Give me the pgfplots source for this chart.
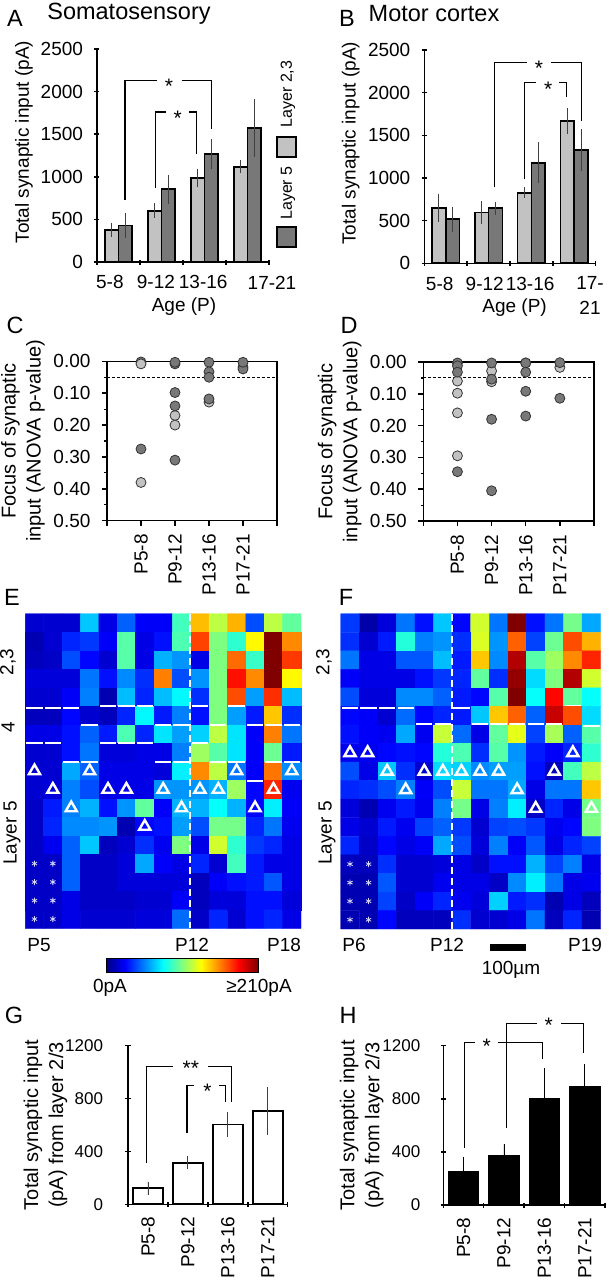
\documentclass[border=0pt]{standalone}
\usepackage{pgfplots}
\usepackage{fontspec}
\setmainfont{Liberation Sans}
\pgfplotsset{compat=1.18}
\newcommand\lab{\fontsize{19}{25}\selectfont}
\newcommand\labb{\fontsize{20}{25}\selectfont}
\newcommand\tickf{\fontsize{17}{20}\selectfont}
\newcommand\letr{\fontsize{23.5}{25}\selectfont}
\definecolor{lay23}{gray}{0.76}
\definecolor{lay5}{gray}{0.47}
\pgfplotsset{
  common/.style={
    scale only axis, clip=false,
    tick label style={font=\lab},
    label style={font=\lab},
    /pgf/number format/assume math mode=true,
    /pgf/number format/set thousands separator={},
    tick align=outside, major tick length=5pt,
    tick style={black,line width=1.5pt},
    yticklabel shift=8pt,
  },
  barax/.style={
    common,
    axis x line=bottom, axis y line=left,
    axis line style={-,black,line width=1.5pt},
    xmin=0, xmax=4, ymin=0,
    xtick={0,1,2,3,4}, xticklabels={},
    extra x tick style={major tick length=0pt},
    every axis plot post/.append style={line width=1.7pt},
  },
  bars/.style={
    ybar, bar shift=0pt, draw=black, forget plot,
    error bars/y dir=both, error bars/y explicit, error bars/error mark=none,
    error bars/error bar style={black!75,line width=0.8pt},
  },
  dotax/.style={
    common,
    xmin=0, xmax=5, ymin=0, ymax=0.5, y dir=reverse,
    axis line style={black,line width=1.5pt},
    xtick={0,1,2,3,4,5}, xticklabels={{},P5-8,P9-12,P13-16,P17-21,{}},
    xticklabel style={rotate=90,anchor=east},
    xticklabel shift=5pt,
    xtick pos=bottom, ytick pos=left,
    ytick={0,0.1,0.2,0.3,0.4,0.5},
    yticklabel style={/pgf/number format/fixed,/pgf/number format/fixed zerofill,/pgf/number format/precision=2},
    minor ytick={0.05,0.15,0.25,0.35,0.45},
    minor tick length=2.5pt, minor tick style={black,line width=1.2pt},
    every axis y label/.style={at={(axis description cs:-0.5,0.5)},rotate=90,anchor=center,align=center,font=\labb},
  },
  dots/.style={only marks, mark=*, mark size=5pt, mark options={draw=black!80,line width=0.8pt,fill=#1}},
  heat/.style={
    scale only axis, hide axis, enlargelimits=false, clip=false,
    y dir=reverse, ymin=-0.5, ymax=16.5, xmin=-0.5,
    colormap/jet, point meta min=0, point meta max=1,
  },
  tri/.style={only marks, mark=triangle, mark size=6.5pt, white, mark options={line width=2.4pt}},
  star/.style={only marks, mark=asterisk, mark size=3pt, white!85!blue, mark options={line width=0.8pt}},
  seg/.style={only marks, mark=-, mark size=8.2pt, white, mark options={line width=1.8pt}},
  vdash/.style={white, line width=1.5pt, dash pattern=on 7pt off 4pt},
}
\begin{document}
\begin{tikzpicture}
\useasboundingbox (0pt,0pt) rectangle (608pt,-1280pt);

% A
\begin{axis}[barax, at={(97pt,-262pt)}, anchor=south west, width=172pt, height=213pt,
    ymax=2500, ytick={0,500,1000,1500,2000,2500},
    extra x ticks={0.30,1.37,2.47}, extra x tick labels={5-8,9-12,13-16},
    xticklabel shift=10pt,
    ylabel={Total synaptic input (pA)}, xlabel={Age (P)},
    every axis y label/.style={at={(axis description cs:-0.424,0.563)},rotate=90,anchor=center,font=\lab},
    every axis x label/.style={at={(axis description cs:0.506,-0.207)},anchor=center,font=\lab}]
\addplot[bars, bar width=13.5pt, fill=lay23] coordinates {
  (0.343,375) +- (0,78) (1.343,602) +- (0,88) (2.343,986) +- (0,110) (3.343,1119) +- (0,80)};
\addplot[bars, bar width=13.5pt, fill=lay5] coordinates {
  (0.657,430) +- (0,145) (1.657,853) +- (0,170) (2.657,1264) +- (0,175) (3.657,1573) +- (0,340)};
\end{axis}

% B
\begin{axis}[barax, at={(424.3pt,-263.3pt)}, anchor=south west, width=171.4pt, height=213.3pt,
    ymax=2500, ytick={0,500,1000,1500,2000,2500},
    extra x ticks={0.36,1.41,2.47}, extra x tick labels={5-8,9-12,13-16},
    xticklabel shift=10pt,
    ylabel={Total synaptic input (pA)}, xlabel={Age (P)},
    every axis y label/.style={at={(axis description cs:-0.43,0.563)},rotate=90,anchor=center,font=\lab},
    every axis x label/.style={at={(axis description cs:0.527,-0.207)},anchor=center,font=\lab}]
\addplot[bars, bar width=13.8pt, fill=lay23] coordinates {
  (0.339,652) +- (0,165) (1.339,594) +- (0,133) (2.339,828) +- (0,62) (3.339,1664) +- (0,152)};
\addplot[bars, bar width=13.8pt, fill=lay5] coordinates {
  (0.661,516) +- (0,147) (1.661,645) +- (0,78) (2.661,1176) +- (0,240) (3.661,1324) +- (0,245)};
\end{axis}

% C
\begin{axis}[dotax, at={(107pt,-520.7pt)}, anchor=south west, width=170pt, height=159.4pt,
    ylabel={Focus of synaptic\\input (ANOVA p-value)},
    every axis y label/.append style={at={(axis description cs:-0.495,0.5)}}]
\draw[densely dashed, line width=0.9pt] (axis cs:0,0.05) -- (axis cs:5,0.05);
\addplot[dots=lay5] coordinates {(1,0.002)};
\addplot[dots=lay23] coordinates {(1,0.008) (1,0.38) (2,0.17) (2,0.2) (3,0.128) (4,0.018)};
\addplot[dots=lay5] coordinates {(1,0.275) (2,0.008) (2,0.003) (2,0.098) (2,0.14) (2,0.31)
  (3,0.003) (3,0.033) (3,0.05) (3,0.118) (4,0.024) (4,0.003)};
\end{axis}

% D
\begin{axis}[dotax, at={(423.3pt,-521pt)}, anchor=south west, width=170.7pt, height=159pt,
    ylabel={Focus of synaptic\\input (ANOVA p-value)},
    every axis y label/.append style={at={(axis description cs:-0.49,0.5)}}]
\draw[densely dashed, line width=0.9pt] (axis cs:0,0.05) -- (axis cs:5,0.05);
\addplot[dots=lay23] coordinates {(1,0.06) (1,0.098) (1,0.16) (1,0.295) (2,0.028) (2,0.062)
  (3,0.003) (4,0.017)};
\addplot[dots=lay5] coordinates {(1,0.003) (1,0.012) (1,0.032) (1,0.345) (2,0.003) (2,0.054)
  (2,0.18) (2,0.405) (3,0.003) (3,0.032) (3,0.092) (3,0.17) (4,0.002) (4,0.114)};
\end{axis}

% E
\begin{axis}[heat, at={(25.3pt,-928.3pt)}, anchor=south west, width=275.7pt, height=314.6pt, xmax=14.5]
\addplot[matrix plot*, mesh/cols=15, point meta=\thisrowno{0}]
  table[row sep=\\, header=false, x expr={mod(\coordindex,15)}, y expr={floor((\coordindex+0.5)/15)}] {
.08\\.08\\.08\\.32\\.10\\.22\\.12\\.12\\.44\\.69\\.56\\.70\\.20\\.56\\.47\\
.05\\.08\\.16\\.18\\.12\\.46\\.10\\.14\\.45\\.81\\.50\\.42\\.63\\1\\.74\\
.06\\.07\\.20\\.13\\.08\\.46\\.10\\.30\\.27\\.10\\.50\\.77\\.43\\1\\.82\\
.09\\.09\\.09\\.24\\.14\\.26\\.17\\.75\\.20\\.27\\.50\\.86\\.74\\1\\.63\\
.08\\.08\\.12\\.25\\.05\\.31\\.16\\.31\\.37\\.17\\.50\\.80\\.28\\.83\\.31\\
.06\\.06\\.13\\.08\\.06\\.16\\.37\\.15\\.25\\.14\\.50\\.28\\.15\\.68\\.17\\
.10\\.10\\.14\\.22\\.15\\.45\\.16\\.35\\.28\\.33\\.56\\.35\\.12\\.75\\.24\\
.08\\.08\\.14\\.24\\.09\\.09\\.10\\.10\\.25\\.53\\.46\\.35\\.12\\.48\\.15\\
.08\\.08\\.29\\.22\\.10\\.10\\.10\\.09\\.36\\.74\\.56\\.24\\.12\\.76\\.26\\
.08\\.09\\.25\\.20\\.10\\.10\\.10\\.27\\.27\\.27\\.30\\.53\\.13\\.84\\.11\\
.07\\.15\\.25\\.30\\.14\\.27\\.47\\.12\\.30\\.30\\.38\\.30\\.13\\.36\\.12\\
.07\\.16\\.26\\.26\\.27\\.05\\.13\\.14\\.28\\.20\\.49\\.49\\.16\\.24\\.11\\
.07\\.11\\.22\\.32\\.06\\.08\\.17\\.11\\.50\\.10\\.58\\.42\\.18\\.16\\.10\\
.07\\.07\\.22\\.07\\.07\\.09\\.29\\.12\\.10\\.16\\.08\\.44\\.15\\.10\\.10\\
.07\\.07\\.22\\.07\\.07\\.09\\.09\\.09\\.09\\.06\\.12\\.14\\.15\\.21\\.10\\
.07\\.07\\.10\\.07\\.07\\.07\\.08\\.08\\.12\\.06\\.09\\.09\\.14\\.14\\.09\\
.07\\.07\\.10\\.08\\.08\\.08\\.09\\.09\\.23\\.07\\.16\\.08\\.14\\.16\\.10\\
};
\addplot[seg] coordinates {(0,4.6) (1,4.6) (2,4.6) (4,4.5) (5,4.5) (6,4.5) (9,4.5) (11,4.5)
  (3,5.5) (7,5.5) (8,5.5) (10,5.5) (12,5.5) (13,5.5) (14,5.5)
  (0,6.5) (1,6.5) (4,6.5) (5,6.5) (6,6.5) (9,6.5)
  (2,7.5) (3,7.5) (7,7.5) (8,7.5) (10,7.5) (11,7.5) (13,7.5) (14,7.5) (12,8.55)};
\addplot[vdash] coordinates {(8.47,-0.5) (8.47,16.5)};
\addplot[tri] coordinates {(0,8) (3,8) (11,8) (14,8) (1,9) (4,9) (5,9) (7,9) (9,9) (10,9) (13,9)
  (2,10) (8,10) (12,10) (6,11)};
\addplot[star] coordinates {(0,13) (1,13) (0,14) (1,14) (0,15) (1,15) (0,16) (1,16)};
\end{axis}

% F
\begin{axis}[heat, at={(340.7pt,-929pt)}, anchor=south west, width=260pt, height=315.3pt, xmax=13.5]
\addplot[matrix plot*, mesh/cols=14, point meta=\thisrowno{0}]
  table[row sep=\\, header=false, x expr={mod(\coordindex,14)}, y expr={floor((\coordindex+0.5)/14)}] {
.18\\.04\\.09\\.24\\.14\\.32\\.13\\.58\\.24\\1\\.14\\.24\\.49\\.29\\
.17\\.08\\.15\\.41\\.25\\.27\\.17\\.59\\.27\\.78\\.19\\.48\\.80\\.70\\
.24\\.10\\.10\\.21\\.21\\.31\\.15\\.68\\.26\\.95\\.46\\.53\\.74\\.84\\
.12\\.10\\.10\\.10\\.14\\.18\\.16\\.47\\.17\\.98\\.34\\.50\\.95\\.58\\
.20\\.09\\.09\\.26\\.26\\.22\\.15\\.13\\.46\\1\\.38\\.87\\.47\\.38\\
.13\\.12\\.08\\.23\\.13\\.16\\.15\\.32\\.68\\.78\\.22\\.93\\.80\\.34\\
.14\\.12\\.11\\.29\\.11\\.57\\.23\\.10\\.47\\.60\\.19\\.54\\.22\\.46\\
.11\\.11\\.13\\.14\\.13\\.41\\.45\\.17\\.46\\.27\\.15\\.12\\.16\\.42\\
.20\\.10\\.32\\.17\\.08\\.34\\.33\\.26\\.28\\.28\\.14\\.06\\.44\\.56\\
.16\\.17\\.20\\.25\\.12\\.20\\.57\\.24\\.24\\.29\\.10\\.24\\.24\\.68\\
.09\\.05\\.11\\.15\\.11\\.25\\.49\\.10\\.25\\.36\\.07\\.16\\.10\\.49\\
.10\\.08\\.15\\.11\\.19\\.22\\.18\\.08\\.19\\.20\\.18\\.11\\.13\\.50\\
.16\\.07\\.13\\.10\\.12\\.29\\.20\\.09\\.25\\.12\\.21\\.10\\.16\\.19\\
.06\\.06\\.17\\.08\\.08\\.09\\.10\\.07\\.14\\.14\\.30\\.19\\.25\\.10\\
.05\\.05\\.21\\.08\\.08\\.11\\.10\\.10\\.07\\.26\\.36\\.24\\.10\\.11\\
.05\\.05\\.19\\.07\\.12\\.16\\.11\\.09\\.33\\.15\\.17\\.05\\.10\\.06\\
.05\\.05\\.13\\.06\\.06\\.06\\.17\\.08\\.08\\.10\\.24\\.06\\.16\\.05\\
};
\addplot[seg] coordinates {(0,4.57) (1,4.57) (2,4.57) (3,4.57) (6,4.57) (12,4.45)
  (4,5.45) (5,5.45) (7,5.45) (8,5.45) (9,5.45) (10,5.45) (11,5.45) (13,5.55)};
\addplot[vdash] coordinates {(5.5,-0.5) (5.5,16.5)};
\addplot[tri] coordinates {(0,7) (0.95,7) (12,7) (2,8) (4,8) (5,8) (6,8) (7,8) (8,8) (11,8)
  (3,9) (9,9) (10,10) (13,10)};
\addplot[star] coordinates {(0,13) (1,13) (0,14) (1,14) (0,15) (1,15) (0,16) (1,16)};
\end{axis}

% colour bar
\begin{axis}[at={(106pt,-972pt)}, anchor=south west, width=152.5pt, height=14pt, scale only axis,
    xmin=0, xmax=1, ymin=0, ymax=1, ticks=none, enlargelimits=false,
    colormap/jet, point meta min=0, point meta max=1, view={0}{90},
    axis line style={black,line width=0.6pt}]
\addplot3[surf, shader=interp, mesh/rows=2, point meta=x] coordinates {
  (0,0,0) (1,0,0)

  (0,1,0) (1,1,0)};
\end{axis}

% G
\begin{axis}[barax, at={(128pt,-1204.3pt)}, anchor=south west, width=159.7pt, height=158.6pt,
    ymax=1200, ytick={0,400,800,1200},
    yticklabel style={font=\tickf}, yticklabel shift=19pt,
    extra x ticks={0.5,1.5,2.5,3.5}, extra x tick labels={P5-8,P9-12,P13-16,P17-21},
    xticklabel style={rotate=90,anchor=east}, xticklabel shift=9pt,
    ylabel={Total synaptic input\\(pA) from layer 2/3},
    every axis y label/.style={at={(axis description cs:-0.517,0.5)},rotate=90,anchor=center,align=center,font=\labb}]
\addplot[bars, bar width=30pt, fill=white] coordinates {
  (0.5,121) +- (0,50) (1.5,315) +- (0,50) (2.5,605) +- (0,95) (3.5,706) +- (0,183)};
\end{axis}

% H
\begin{axis}[barax, at={(443.3pt,-1205pt)}, anchor=south west, width=161.7pt, height=159.3pt,
    ymax=1200, ytick={0,400,800,1200},
    yticklabel style={font=\tickf}, yticklabel shift=17pt,
    extra x ticks={0.5,1.5,2.5,3.5}, extra x tick labels={P5-8,P9-12,P13-16,P17-21},
    xticklabel style={rotate=90,anchor=east}, xticklabel shift=9pt,
    ylabel={Total synaptic input\\(pA) from layer 2/3},
    every axis y label/.style={at={(axis description cs:-0.505,0.5)},rotate=90,anchor=center,align=center,font=\labb}]
\addplot[bars, bar width=30pt, fill=black, error bars/error bar style={black,line width=0.8pt}] coordinates {
  (0.5,248) +- (0,115) (1.5,371) +- (0,86) (2.5,801) +- (0,228) (3.5,891) +- (0,171)};
\end{axis}

\begin{scope}[x=1pt,y=-1pt]
% tick labels that do not sit on the axis grid
\node[font=\lab] at (272,283) {17-21};
\node[font=\lab] at (590,283) {17-};
\node[font=\lab] at (590,308) {21};

% legend of A
\draw[line width=1.5pt,fill=lay23] (277,137) rectangle (296,157);
\draw[line width=1.5pt,fill=lay5] (277,227) rectangle (296,247);
\node[font=\fontsize{16}{17}\selectfont,rotate=90] at (288,94) {Layer 2,3};
\node[font=\fontsize{16}{17}\selectfont,rotate=90] at (288,193) {Layer 5};

% panel letters and titles
\foreach \t/\xx/\yy in {A/15/18,B/347/18,C/15/325,D/349/325,E/12/597,F/346/597,G/14/1015,H/348/1015}
  \node[font=\letr] at (\xx,\yy) {\t};
\node[font=\letr] at (129,14) {Somatosensory};
\node[font=\letr] at (434,14) {Motor cortex};

% heat map annotations
\node[font=\lab,rotate=90] at (8,662) {2,3};
\node[font=\lab,rotate=90] at (8,727) {4};
\node[font=\lab,rotate=90] at (12,833) {Layer 5};
\node[font=\lab,rotate=90] at (324,662) {2,3};
\node[font=\lab,rotate=90] at (327,833) {Layer 5};
\node[font=\lab] at (39,945) {P5};
\node[font=\lab] at (192,945) {P12};
\node[font=\lab] at (284,945) {P18};
\node[font=\lab] at (354,945) {P6};
\node[font=\lab] at (447,945) {P12};
\node[font=\lab] at (585,945) {P19};
\fill[black] (489.7,944) rectangle (525.7,951);
\node[font=\lab] at (511,970) {100µm};
\node[font=\lab] at (110,988) {0pA};
\node[font=\lab] at (259,988) {≥210pA};

% significance brackets
\tikzset{br/.style={line width=1.2pt}, st/.style={font=\fontsize{21}{22}\selectfont,inner sep=0pt}}
\draw[br] (125,200) -- (125,80.7) -- (156.7,80.7) (181.7,80.7) -- (211.7,80.7) -- (211.7,129.3);
\node[st] at (169,86) {*};
\draw[br] (155.3,188.3) -- (155.3,112) -- (165.7,112) (189,112) -- (196.7,112) -- (196.7,154);
\node[st] at (177.7,118) {*};
\draw[br] (494.7,187.3) -- (494.7,62.7) -- (526.7,62.7) (551.3,62.7) -- (581.3,62.7) -- (581.3,120.7);
\node[st] at (539,68) {*};
\draw[br] (524.3,179.3) -- (524.3,82.7) -- (535.7,82.7) (559,82.7) -- (566.7,82.7) -- (566.7,97.3);
\node[st] at (548.3,89) {*};
\draw[br] (146.6,1162.7) -- (146.6,1066.7) -- (172.6,1066.7) (207.5,1066.7) -- (231.5,1066.7) -- (231.5,1101.7);
\node[st] at (190.8,1068) {**};
\draw[br] (187,1133.3) -- (187,1085.7) -- (194,1085.7) (219,1085.7) -- (225.3,1085.7) -- (225.3,1101.7);
\node[st] at (207.5,1091) {*};
\draw[br] (464.2,1147.7) -- (464.2,1042.3) -- (475,1042.3) (498.3,1042.3) -- (542.1,1042.3) -- (542.1,1059.3);
\node[st] at (486.7,1046) {*};
\draw[br] (506.8,1128.3) -- (506.8,1023.3) -- (537.1,1023.3) (561.1,1023.3) -- (583.6,1023.3) -- (583.6,1052.7);
\node[st] at (548.7,1025) {*};
\end{scope}
\end{tikzpicture}
\end{document}
